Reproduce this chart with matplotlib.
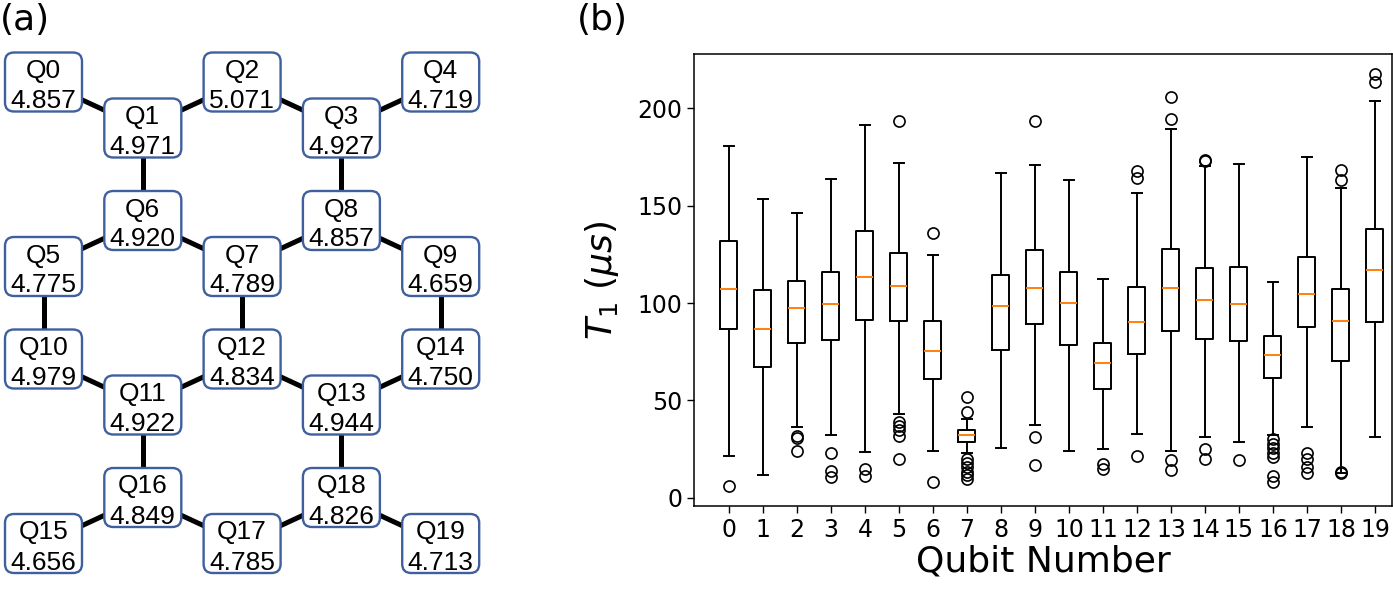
import matplotlib
matplotlib.use("Agg")
import matplotlib.pyplot as plt
from matplotlib.patches import FancyBboxPatch

# ---------------- data: panel (a) ----------------
qubit_names = [f"Q{i}" for i in range(20)]
qubit_freqs = [4.857, 4.971, 5.071, 4.927, 4.719,
               4.775, 4.920, 4.789, 4.857, 4.659,
               4.979, 4.922, 4.834, 4.944, 4.750,
               4.656, 4.849, 4.785, 4.826, 4.713]
couplings = [(0, 1), (1, 2), (2, 3), (3, 4),
             (1, 6), (3, 8),
             (5, 6), (6, 7), (7, 8), (8, 9),
             (5, 10), (7, 12), (9, 14),
             (10, 11), (11, 12), (12, 13), (13, 14),
             (11, 16), (13, 18),
             (15, 16), (16, 17), (17, 18), (18, 19)]

# ---------------- data: panel (b) ----------------
qubit_labels = [str(i) for i in range(20)]
t1_median = [107.3, 86.9, 97.7, 99.6, 113.6, 108.7, 75.4, 32.2, 98.5, 107.8,
             100.3, 69.2, 90.3, 108.0, 101.8, 99.6, 73.5, 104.5, 91.0, 116.9]
t1_q1 = [86.7, 67.0, 79.5, 81.2, 91.2, 90.7, 61.2, 28.8, 76.1, 89.3,
         78.3, 56.0, 73.9, 85.9, 81.7, 80.4, 61.7, 87.9, 70.4, 90.1]
t1_q3 = [131.8, 106.8, 111.4, 116.0, 136.9, 126.0, 90.7, 34.8, 114.5, 127.5,
         115.9, 79.5, 108.3, 127.8, 118.1, 118.6, 83.1, 123.7, 107.1, 138.3]
t1_whis_lo = [21.4, 11.7, 36.2, 32.2, 23.5, 43.0, 24.2, 22.8, 25.7, 37.2,
              24.2, 24.8, 32.7, 24.0, 31.0, 28.4, 32.2, 36.5, 12.9, 31.4]
t1_whis_hi = [180.5, 153.6, 146.2, 163.7, 191.4, 172.2, 124.9, 40.3, 166.9, 170.9,
              163.3, 112.4, 156.5, 189.4, 170.2, 171.6, 110.7, 175.0, 159.0, 203.9]
t1_fliers = [
    [6.2],
    [],
    [31.9, 30.5, 24.0],
    [23.1, 13.7, 10.8],
    [14.7, 11.3],
    [193.5, 39.1, 36.8, 34.8, 31.7, 20.1],
    [135.9, 8.1],
    [51.9, 44.2, 19.7, 17.7, 15.6, 13.4, 11.7, 9.4],
    [],
    [193.7, 31.0, 16.6],
    [],
    [17.3, 14.9],
    [168.0, 164.5, 21.3],
    [205.8, 194.7, 19.5, 14.2],
    [173.6, 172.9, 25.2, 19.9],
    [19.4],
    [30.0, 27.6, 25.4, 22.8, 20.7, 11.1, 8.2],
    [23.1, 19.7, 15.9, 12.5],
    [168.5, 163.3, 13.0, 12.5],
    [217.8, 213.4],
]

W, H = 1393, 589
fig = plt.figure(figsize=(W / 100, H / 100), dpi=100)

# ---------------- panel (a): coupling map ----------------
axa = fig.add_axes([0, 0, 500 / W, 1])
axa.set_xlim(0, 500)
axa.set_ylim(H, 0)
axa.axis("off")

def node_xy(i):
    row, col = divmod(i, 5)
    x = 43.5 + 99.3 * col
    y = 82 + 138.5 * row + 46 * ((row + col) % 2)
    return x, y

for a, b in couplings:
    xa, ya = node_xy(a)
    xb, yb = node_xy(b)
    axa.plot([xa, xb], [ya, yb], color="black", lw=3.6, zorder=1,
             solid_capstyle="butt")

bw, bh, pad = 77, 59, 7
for i, (name, f) in enumerate(zip(qubit_names, qubit_freqs)):
    x, y = node_xy(i)
    patch = FancyBboxPatch((x - bw / 2 + pad, y - bh / 2 + pad), bw - 2 * pad, bh - 2 * pad,
                           boxstyle=f"round,pad={pad},rounding_size=9",
                           facecolor="white", edgecolor="#3f5f9f", lw=1.7, zorder=2)
    axa.add_patch(patch)
    axa.text(x, y - 4, name, ha="center", va="baseline", fontsize=19,
             family="Liberation Sans", zorder=3)
    axa.text(x, y + 26, f"{f:.3f}", ha="center", va="baseline", fontsize=19,
             family="Liberation Sans", zorder=3)

fig.text(0, 1 - 3 / H, "(a)", ha="left", va="top", fontsize=26)
fig.text(577 / W, 1 - 3 / H, "(b)", ha="left", va="top", fontsize=26)

# ---------------- panel (b): T1 boxplot ----------------
left, right, top, bottom = 694.3, 1392, 54, 505.7
axb = fig.add_axes([left / W, (H - bottom) / H, (right - left) / W, (bottom - top) / H])

stats = []
for i in range(len(qubit_labels)):
    stats.append(dict(med=t1_median[i], q1=t1_q1[i], q3=t1_q3[i],
                      whislo=t1_whis_lo[i], whishi=t1_whis_hi[i],
                      fliers=t1_fliers[i], label=qubit_labels[i]))

axb.bxp(stats, positions=range(len(stats)), widths=0.5, capwidths=0.3,
        boxprops=dict(color="black", lw=1.4),
        whiskerprops=dict(color="black", lw=1.4),
        capprops=dict(color="black", lw=1.4),
        medianprops=dict(color="#ff7f0e", lw=1.4),
        flierprops=dict(marker="o", markerfacecolor="none", markeredgecolor="black",
                        markersize=8, markeredgewidth=1.2))

axb.set_xlim(-1.02, 19.5)
axb.set_ylim(-4.1, 228)
axb.set_yticks([0, 50, 100, 150, 200])
axb.set_xticks(range(len(qubit_labels)))
axb.set_xticklabels(qubit_labels)
axb.tick_params(labelsize=17, length=5, width=1)
for s in axb.spines.values():
    s.set_linewidth(1.1)
axb.set_xlabel("Qubit Number", fontsize=26, labelpad=2)
axb.set_ylabel(r"$T_1$ ($\mu s$)", fontsize=26)
axb.yaxis.set_label_coords(-0.105, 0.5)

fig.savefig("out.png", dpi=100)
